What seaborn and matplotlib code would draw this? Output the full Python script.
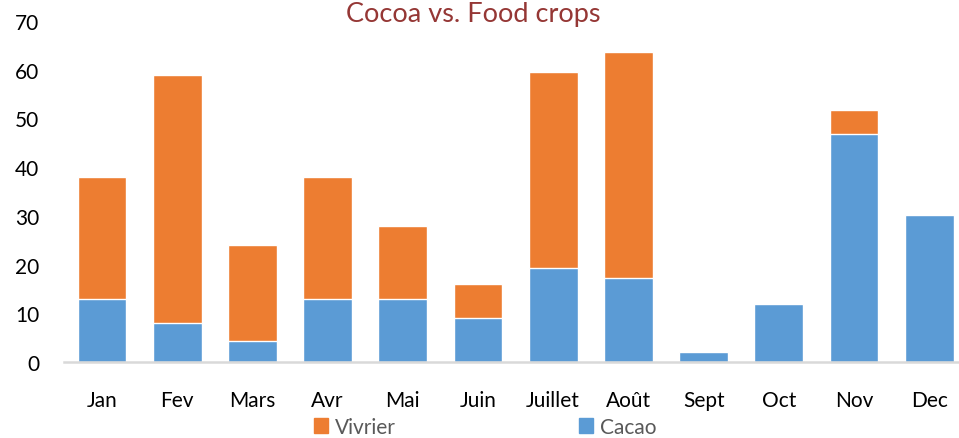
import matplotlib
matplotlib.use("Agg")
import matplotlib.pyplot as plt
import seaborn as sns
import pandas as pd
from matplotlib.patches import Patch

months = ["Jan", "Fev", "Mars", "Avr", "Mai", "Juin", "Juillet", "Août", "Sept", "Oct", "Nov", "Dec"]
cacao = [13, 8, 4.3, 13, 13, 9, 19.3, 17.3, 2, 12, 46.8, 30.1]
vivrier = [25, 51, 19.7, 25, 15, 7, 40.3, 46.4, 0, 0, 5, 0]
yticks = [0, 10, 20, 30, 40, 50, 60, 70]

title = "Cocoa vs. Food crops"
c_viv = "#ED7D31"
c_cac = "#5B9BD5"

sns.set_theme(style="white")
plt.rcParams["font.family"] = ["Lato", "DejaVu Sans"]

df = pd.DataFrame({"month": months, "cacao": cacao, "vivrier": vivrier})
df["total"] = df["cacao"] + df["vivrier"]

fig = plt.figure(figsize=(9.59, 4.39), dpi=100)
ax = fig.add_axes([64.4 / 959, (439 - 363) / 439, 12 * 75.2 / 959, 341 / 439])

sns.barplot(data=df, x="month", y="total", color=c_viv, saturation=1, width=0.65, ax=ax)
sns.barplot(data=df, x="month", y="cacao", color=c_cac, saturation=1, width=0.65, ax=ax)

ax.set_xlim(-0.5, 11.5)
ax.set_ylim(0, 70)
ax.set_yticks(yticks)
ax.set_xlabel("")
ax.set_ylabel("")
for s in ["top", "right", "left"]:
    ax.spines[s].set_visible(False)
ax.spines["bottom"].set_color("#D9D9D9")
ax.spines["bottom"].set_linewidth(1.8)
ax.tick_params(axis="both", length=0, labelsize=15, colors="#000000")
ax.tick_params(axis="y", pad=18)
ax.tick_params(axis="x", pad=20)

fig.text(473 / 959, 1 - 2 / 439, title, ha="center", va="top", fontsize=19.5, color="#953735")

handles = [Patch(color=c_viv, label="Vivrier"), Patch(color=c_cac, label="Cacao")]
fig.legend(handles=handles, loc="center", bbox_to_anchor=(485 / 959, 1 - 428 / 439), ncol=2,
           frameon=False, fontsize=15, handlelength=0.7, handleheight=0.7, handletextpad=0.3,
           columnspacing=8.8, labelcolor="#595959")

fig.savefig("out.png", dpi=100)
